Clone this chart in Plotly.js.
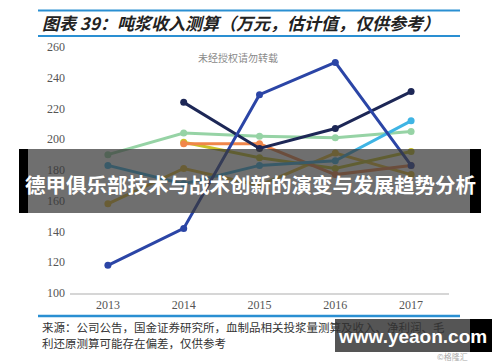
<!DOCTYPE html>
<html>
<head>
<meta charset="utf-8">
<script src="https://cdn.plot.ly/plotly-3.0.1.min.js"></script>
<style>html,body{margin:0;padding:0;background:#fff;}#chart{width:500px;height:362px;}</style>
</head>
<body>
<div id="chart"></div>
<script>
const years = [2013, 2014, 2015, 2016, 2017];
const seriesGreen  = [190, 204, 202, 201, 205];
const seriesGold   = [158, 181, 170, 191, 177];
const seriesOlive  = [null, 198, 188, 181, 192];
const seriesOrange = [null, 197, 197, 177, 183];
const seriesSky    = [183, 171, 183, 186, 212];
const seriesNavy   = [null, 224, 194, 207, 231];
const seriesBlue   = [118, 142, 229, 250, 183];
const yTicks = [100, 120, 140, 160, 180, 200, 220, 240, 260];

const titleText = "图表 39：吨浆收入测算（万元，估计值，仅供参考）";
const sourceLine1 = "来源：公司公告，国金证券研究所，血制品相关投浆量测算及收入、净利润、毛";
const sourceLine2 = "利还原测算可能存在偏差，仅供参考";
const bannerText = "德甲俱乐部技术与战术创新的演变与发展趋势分析";
const markText = "未经授权请勿转载";
const siteText = "www.yeaon.com";

const L = 70, R = 51, T = 47, B = 69, W = 500, H = 362;
const PW = W - L - R, PH = H - T - B;
const X = px => (px - L) / PW;
const Y = py => (H - B - py) / PH;

function mk(y, color) {
  return {x: years, y: y, type: 'scatter', mode: 'lines+markers',
    line: {color: color, width: 3}, marker: {color: color, size: 7},
    connectgaps: false, hoverinfo: 'skip'};
}
const data = [
  mk(seriesGreen, '#96d3a5'),
  mk(seriesGold, '#e8be30'),
  mk(seriesOlive, '#c9c227'),
  mk(seriesOrange, '#f0864a'),
  mk(seriesSky, '#3fb4e4'),
  mk(seriesNavy, '#1d2756'),
  mk(seriesBlue, '#2b45a6')
];

const cjk = '"Noto Sans CJK SC", sans-serif';
const layout = {
  width: W, height: H,
  margin: {l: L, r: R, t: T, b: B, pad: 0},
  paper_bgcolor: '#ffffff', plot_bgcolor: '#ffffff',
  showlegend: false,
  xaxis: {range: [2012.5, 2017.5], tickvals: years, ticktext: years.map(String),
    showgrid: false, zeroline: false, showline: true, linecolor: '#d6d6d6', linewidth: 1.5,
    ticks: '', tickfont: {family: 'Liberation Serif, serif', size: 12, color: '#555'}},
  yaxis: {range: [100, 260], tickvals: yTicks, showgrid: false, zeroline: false, showline: false,
    ticks: '', ticklabelstandoff: 4,
    tickfont: {family: 'Liberation Serif, serif', size: 12, color: '#555'}},
  shapes: [
    {type: 'line', xref: 'paper', yref: 'paper', x0: X(38), x1: X(460), y0: Y(10.5), y1: Y(10.5), line: {color: '#2a8fd2', width: 2}},
    {type: 'line', xref: 'paper', yref: 'paper', x0: X(38), x1: X(460), y0: Y(36), y1: Y(36), line: {color: '#2a8fd2', width: 2}},
    {type: 'line', xref: 'paper', yref: 'paper', x0: X(38), x1: X(460), y0: Y(316), y1: Y(316), line: {color: '#2a8fd2', width: 2.5}},
    {type: 'rect', xref: 'paper', yref: 'paper', x0: X(19), x1: X(481), y0: Y(213), y1: Y(149), line: {width: 0}, fillcolor: 'rgba(55,55,55,0.72)', layer: 'above'},
    {type: 'rect', xref: 'paper', yref: 'paper', x0: X(19), x1: X(28), y0: Y(213), y1: Y(149), line: {width: 0}, fillcolor: '#000', layer: 'above'},
    {type: 'rect', xref: 'paper', yref: 'paper', x0: X(470), x1: X(481), y0: Y(213), y1: Y(149), line: {width: 0}, fillcolor: '#000', layer: 'above'},
    {type: 'rect', xref: 'paper', yref: 'paper', x0: X(335), x1: X(492), y0: Y(352), y1: Y(319), line: {width: 0}, fillcolor: 'rgba(55,55,55,0.85)', layer: 'above'},
    {type: 'rect', xref: 'paper', yref: 'paper', x0: X(470), x1: X(492), y0: Y(352), y1: Y(319), line: {width: 0}, fillcolor: '#000', layer: 'above'}
  ],
  annotations: [
    {xref: 'paper', yref: 'paper', x: X(40), y: Y(22), xanchor: 'left', yanchor: 'middle', showarrow: false,
     text: '<b><i>' + titleText + '</i></b>', font: {family: cjk, size: 17, color: '#222'}},
    {xref: 'paper', yref: 'paper', x: X(238), y: Y(57), xanchor: 'center', yanchor: 'middle', showarrow: false,
     text: markText, font: {family: cjk, size: 10, color: '#8a8a8a'}},
    {xref: 'paper', yref: 'paper', x: X(40), y: Y(327), xanchor: 'left', yanchor: 'middle', showarrow: false,
     text: sourceLine1, font: {family: cjk, size: 11.5, color: '#333'}},
    {xref: 'paper', yref: 'paper', x: X(40), y: Y(343), xanchor: 'left', yanchor: 'middle', showarrow: false,
     text: sourceLine2, font: {family: cjk, size: 11.5, color: '#333'}},
    {xref: 'paper', yref: 'paper', x: X(250), y: Y(184), xanchor: 'center', yanchor: 'middle', showarrow: false,
     text: '<b>' + bannerText + '</b>', font: {family: cjk, size: 20.5, color: '#ffffff'}},
    {xref: 'paper', yref: 'paper', x: X(412), y: Y(336), xanchor: 'center', yanchor: 'middle', showarrow: false,
     text: '<b>' + siteText + '</b>', font: {family: 'Liberation Sans, Arial, sans-serif', size: 19, color: '#ffffff'}},
    {xref: 'paper', yref: 'paper', x: X(452), y: Y(356), xanchor: 'center', yanchor: 'middle', showarrow: false,
     text: '©格隆汇', font: {family: cjk, size: 8, color: '#aaa'}}
  ]
};
Plotly.newPlot('chart', data, layout, {staticPlot: true, displayModeBar: false});
</script>
</body>
</html>
